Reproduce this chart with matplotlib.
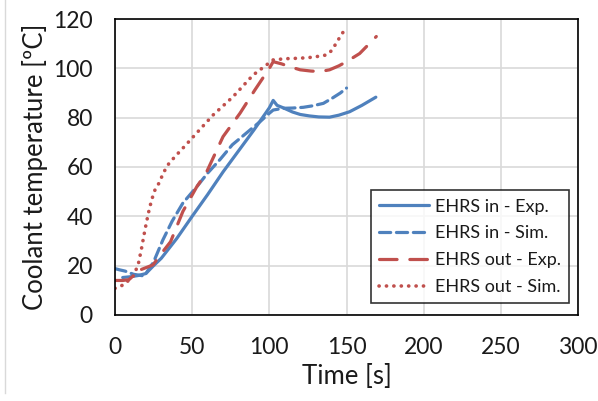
import matplotlib
matplotlib.use("Agg")
import matplotlib.pyplot as plt
from matplotlib.lines import Line2D

plt.rcParams['font.family'] = ['Lato', 'DejaVu Sans']

# EHRS inlet, experiment
t_in_exp = [5, 10, 15, 20, 25, 30, 40, 50, 60, 70, 80, 90, 100, 102.5, 105, 109,
            115, 120, 126, 132, 139, 145, 152, 160, 169]
T_in_exp = [15.2, 15.5, 16.0, 16.8, 20.0, 23.0, 31.0, 40.0, 48.8, 58.0, 66.5, 75.0,
            84.0, 87.0, 85.0, 84.0, 82.3, 81.3, 80.7, 80.3, 80.2, 81.0, 82.4, 85.0, 88.3]

# EHRS inlet, simulation
t_in_sim = [0, 3, 6.5, 12, 19, 25, 31, 37, 44, 53, 60, 68, 76, 85, 94, 100,
            102.5, 109, 115, 122, 128, 135, 141, 146, 150]
T_in_sim = [18.8, 18.3, 17.8, 16.5, 15.8, 21.5, 30.4, 38.0, 45.4, 52.0, 57.5, 63.0,
            69.0, 73.7, 78.4, 81.8, 83.1, 83.8, 83.9, 84.2, 84.8, 85.8, 88.0, 90.0, 92.0]

# EHRS outlet, experiment
t_out_exp = [0, 5, 9, 16, 24.6, 31, 36, 44, 53, 59, 70, 81, 90.6, 100, 102.5,
             108, 113, 120, 127, 133, 139, 145, 150, 158.5, 164, 169.3]
T_out_exp = [14.0, 14.0, 14.3, 18.2, 20.3, 25.7, 29.7, 42.0, 52.0, 57.5, 72.3, 81.8,
             91.2, 100.0, 102.7, 101.8, 100.7, 99.4, 98.9, 98.7, 99.4, 101.0, 102.7,
             106.0, 109.5, 112.9]

# EHRS outlet, simulation
t_out_sim = [0, 5.4, 11.6, 15, 17.2, 19.4, 21.6, 23.7, 25.9, 29, 31.2, 35, 39.9,
             46, 52.8, 63.6, 76.5, 89.5, 102.4, 110, 119.7, 128, 136.9, 140, 143.4,
             146, 148.8, 150]
T_out_sim = [10.8, 12.2, 15.5, 20.3, 27.0, 34.5, 41.2, 46.6, 50.7, 54.0, 57.5, 61.5,
             64.9, 69.0, 73.7, 81.1, 88.5, 97.3, 103.4, 103.9, 104.1, 104.5, 105.4,
             107.0, 110.2, 113.0, 115.6, 117.0]

blue = '#4F81BD'
red = '#C0504D'
txt = '#1A1A1A'

fig = plt.figure(figsize=(5.98, 4.01), dpi=100)
ax = fig.add_axes([0.1923, 0.2145, 0.7743, 0.7381])

ax.plot(t_in_exp, T_in_exp, color=blue, lw=2.3, solid_capstyle='round',
        label='EHRS in - Exp.')
ax.plot(t_in_sim, T_in_sim, color=blue, lw=2.3, linestyle=(0, (3.5, 1.8)),
        dash_capstyle='round', label='EHRS in - Sim.')
ax.plot(t_out_exp, T_out_exp, color=red, lw=2.3, linestyle=(0, (5.5, 4)),
        dash_capstyle='round', label='EHRS out - Exp.')
ax.plot(t_out_sim, T_out_sim, color=red, lw=2.6, linestyle=(0, (0.05, 2.0)),
        dash_capstyle='round', label='EHRS out - Sim.')

ax.set_xlim(0, 300)
ax.set_ylim(0, 120)
ax.set_xticks(range(0, 301, 50))
ax.set_yticks(range(0, 121, 20))
ax.grid(True, color='#D9D9D9', lw=1.2)
ax.set_axisbelow(True)
ax.tick_params(length=0, labelsize=16.5, pad=16, colors=txt)
for s in ax.spines.values():
    s.set_color('black')
    s.set_linewidth(1.2)

ax.set_xlabel('Time [s]', fontsize=18.5, color=txt, labelpad=4)
ax.set_ylabel('Coolant temperature [ºC]', fontsize=18.5, color=txt, labelpad=4)

leg = ax.legend(loc='lower right', bbox_to_anchor=(0.98, 0.04), fontsize=13,
                frameon=True, fancybox=False, edgecolor='black', handlelength=2.8,
                handletextpad=0.3, labelspacing=0.6, borderpad=0.45,
                borderaxespad=0)
leg.get_frame().set_linewidth(1.2)
for t in leg.get_texts():
    t.set_color(txt)

# thin frame line on the left edge
fig.add_artist(Line2D([5 / 598, 5 / 598], [0.02, 1.0], color='#D9D9D9', lw=1))

fig.savefig('out.png', dpi=100)
